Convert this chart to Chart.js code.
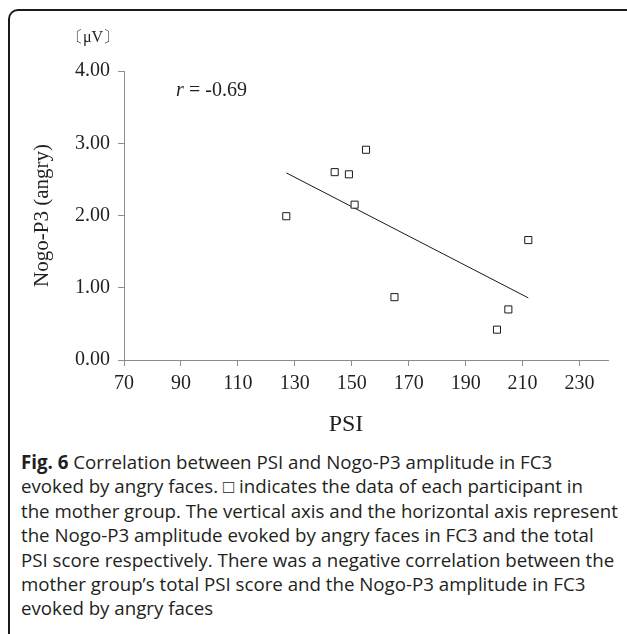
<!DOCTYPE html>
<html lang="en">
    <head>
        <meta charset="UTF-8" />
        <title>PSI vs Nogo-P3</title>
        <script src="https://cdn.jsdelivr.net/npm/chart.js@4"></script>
    </head>
    <body>
        <style>
            * {
                padding: 0;
                margin: 0;
                box-sizing: border-box;
            }

            body {
                width: 627px;
                height: 634px;
                background-color: #fff;
                position: relative;
                overflow: hidden;
            }

            .frame {
                position: absolute;
                left: 8px;
                top: 9px;
                width: 640px;
                height: 650px;
                border-left: 2px solid #1a1a1a;
                border-top: 2px solid #1a1a1a;
                border-top-left-radius: 10px;
            }

            .chart-container {
                position: absolute;
                left: 0;
                top: 0;
                width: 627px;
                height: 445px;
            }

            .caption {
                position: absolute;
                left: 21px;
                top: 450px;
                font-family: "Open Sans", sans-serif;
                font-size: 18.7px;
                line-height: 24.4px;
                color: #231f20;
                white-space: nowrap;
            }
        </style>

        <div class="frame"></div>
        <div class="chart-container">
            <canvas id="psiChart"></canvas>
        </div>
        <div class="caption">
            <b>Fig. 6</b> Correlation between PSI and Nogo-P3 amplitude in FC3<br />
            evoked by angry faces. □ indicates the data of each participant in<br />
            the mother group. The vertical axis and the horizontal axis represent<br />
            the Nogo-P3 amplitude evoked by angry faces in FC3 and the total<br />
            PSI score respectively. There was a negative correlation between the<br />
            mother group’s total PSI score and the Nogo-P3 amplitude in FC3<br />
            evoked by angry faces
        </div>

        <script>
            // participants (PSI total score, Nogo-P3 amplitude in µV)
            const psiScores = [127, 144, 149, 155, 151, 165, 201, 205, 212];
            const nogoP3 = [1.99, 2.6, 2.57, 2.91, 2.15, 0.87, 0.42, 0.7, 1.66];

            // fitted line end points
            const trendPsi = [127, 212];
            const trendNogo = [2.59, 0.86];

            const xTicks = [70, 90, 110, 130, 150, 170, 190, 210, 230];
            const yTicks = [0, 1, 2, 3, 4];

            const axisGray = "#8c8c8c";
            const serif = "'Liberation Serif', 'Times New Roman', serif";

            const textPlugin = {
                id: "extraText",
                afterDraw(chart) {
                    const ctx = chart.ctx;
                    ctx.save();
                    ctx.fillStyle = "#231f20";
                    ctx.textBaseline = "middle";

                    ctx.font = "16px " + serif;
                    ctx.textAlign = "center";
                    ctx.fillText("〔μV〕", 93, 38);

                    ctx.textAlign = "left";
                    ctx.font = "italic 20px " + serif;
                    ctx.fillText("r", 176, 91);
                    ctx.font = "20px " + serif;
                    ctx.fillText("= -0.69", 189, 91);

                    ctx.font = "24px " + serif;
                    ctx.textAlign = "center";
                    ctx.fillText("PSI", 346, 425);
                    ctx.restore();
                },
            };

            const ctx = document.getElementById("psiChart").getContext("2d");
            new Chart(ctx, {
                type: "scatter",
                data: {
                    datasets: [
                        {
                            label: "participants",
                            data: psiScores.map((x, i) => ({ x: x, y: nogoP3[i] })),
                            pointStyle: "rect",
                            pointRadius: 5,
                            borderWidth: 1,
                            borderColor: "#1a1a1a",
                            backgroundColor: "#fff",
                        },
                        {
                            label: "trend",
                            data: trendPsi.map((x, i) => ({ x: x, y: trendNogo[i] })),
                            showLine: true,
                            pointRadius: 0,
                            borderWidth: 1,
                            borderColor: "#1a1a1a",
                        },
                    ],
                },
                options: {
                    responsive: true,
                    maintainAspectRatio: false,
                    animation: false,
                    layout: {
                        padding: { left: 0, top: 71, right: 19, bottom: 0 },
                    },
                    plugins: {
                        legend: { display: false },
                        tooltip: { enabled: false },
                    },
                    scales: {
                        x: {
                            type: "linear",
                            min: 70,
                            max: 240,
                            afterBuildTicks: (scale) => {
                                scale.ticks = xTicks.map((v) => ({ value: v }));
                            },
                            afterFit: (scale) => {
                                scale.height = 85;
                            },
                            grid: {
                                drawOnChartArea: false,
                                color: axisGray,
                                tickLength: 6,
                            },
                            border: { color: axisGray },
                            ticks: {
                                color: "#231f20",
                                font: { family: serif, size: 20 },
                                padding: 6,
                                maxRotation: 0,
                            },
                        },
                        y: {
                            min: 0,
                            max: 4,
                            afterBuildTicks: (scale) => {
                                scale.ticks = yTicks.map((v) => ({ value: v }));
                            },
                            afterFit: (scale) => {
                                scale.width = 124;
                            },
                            grid: {
                                drawOnChartArea: false,
                                color: axisGray,
                                tickLength: 6,
                            },
                            border: { color: axisGray },
                            title: {
                                display: true,
                                text: "Nogo-P3 (angry)",
                                color: "#231f20",
                                font: { family: serif, size: 21 },
                                padding: { top: 30, bottom: 0 },
                            },
                            ticks: {
                                color: "#231f20",
                                font: { family: serif, size: 20 },
                                padding: 8,
                                callback: (value) => value.toFixed(2),
                            },
                        },
                    },
                },
                plugins: [textPlugin],
            });
        </script>
    </body>
</html>
